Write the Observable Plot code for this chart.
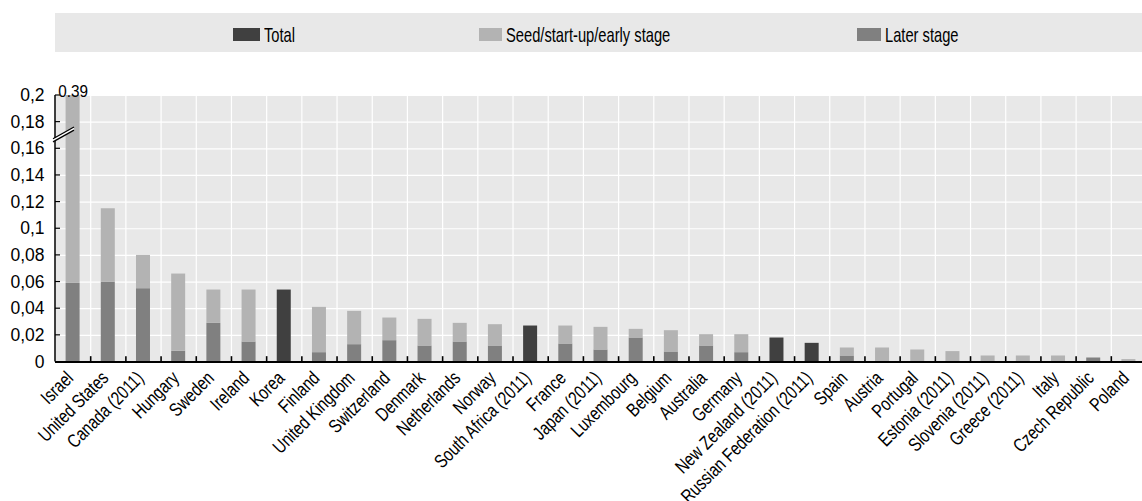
<!DOCTYPE html>
<html><head><meta charset="utf-8">
<script src="https://cdn.jsdelivr.net/npm/d3@7"></script>
<script src="https://cdn.jsdelivr.net/npm/@observablehq/plot@0.6"></script>
<style>
body{margin:0;background:#fff;font-family:"Liberation Sans",Arial,sans-serif;}
#wrap{position:relative;width:1142px;height:501px;overflow:hidden}
#chart{position:absolute;left:0;top:0}
#legend{position:absolute;left:55px;top:13px;width:1087px;height:39px;background:#e8e8e8;z-index:2}
.item{position:absolute;top:2px;height:39px;display:flex;align-items:center;font-size:21px;color:#000;white-space:nowrap}
.sw{display:inline-block;width:24px;height:13px;margin-right:4px}
.lt{display:inline-block;transform:scaleX(0.7);transform-origin:left center}
</style></head><body>
<div id="wrap"><div id="chart"></div><div id="legend"></div></div>
<script>
const countries = ["Israel","United States","Canada (2011)","Hungary","Sweden","Ireland","Korea","Finland","United Kingdom","Switzerland","Denmark","Netherlands","Norway","South Africa (2011)","France","Japan (2011)","Luxembourg","Belgium","Australia","Germany","New Zealand (2011)","Russian Federation (2011)","Spain","Austria","Portugal","Estonia (2011)","Slovenia (2011)","Greece (2011)","Italy","Czech Republic","Poland"];
const laterStage = [0.059,0.060,0.055,0.008,0.029,0.015,null,0.007,0.013,0.016,0.012,0.015,0.012,null,0.0135,0.009,0.018,0.0075,0.012,0.007,null,null,0.0045,0,0,0,0,0,0,0.003,0];
const seedStage  = [0.331,0.055,0.025,0.058,0.025,0.039,null,0.034,0.025,0.017,0.020,0.014,0.016,null,0.0135,0.017,0.0065,0.016,0.0085,0.0135,null,null,0.006,0.0105,0.009,0.0078,0.0045,0.0045,0.0045,0,0.0018];
const totalOnly  = [null,null,null,null,null,null,0.054,null,null,null,null,null,null,0.027,null,null,null,null,null,null,0.018,0.014,null,null,null,null,null,null,null,null,null];
const seriesNames = ["Total","Seed/start-up/early stage","Later stage"];
const seriesColors = ["#404040","#b3b3b3","#808080"];
const yTicks = [0,0.02,0.04,0.06,0.08,0.1,0.12,0.14,0.16,0.18,0.2];
const israelLabel = "0.39";
const breakLines = [[0.1648,0.1736],[0.1672,0.1760]];

const rows = [];
countries.forEach((c,i)=>{
  if (totalOnly[i] != null) rows.push({country:c, series:"Total", y1:0, y2:totalOnly[i]});
  else {
    if (laterStage[i] > 0) rows.push({country:c, series:"Later stage", y1:0, y2:laterStage[i]});
    if (seedStage[i] > 0) rows.push({country:c, series:"Seed/start-up/early stage", y1:laterStage[i], y2:laterStage[i]+seedStage[i]});
  }
});

const FONT = '"Liberation Sans",Arial,sans-serif';
const xRange = [55, 1146];
const bw = (xRange[1]-xRange[0])/countries.length;
const barW = 14;
const fmt = d => d === 0 ? "0" : String(+d.toFixed(2)).replace(".", ",");

function axisDeco(index, scales, values, dims) {
  const g = d3.create("svg:g");
  const x0 = dims.marginLeft;
  const y = scales.y;
  g.append("line").attr("x1",x0).attr("x2",x0).attr("y1",y(0.2)).attr("y2",y(0)).attr("stroke","#000").attr("stroke-width",1.5);
  for (const t of yTicks.slice(1)) {
    g.append("line").attr("x1",x0).attr("x2",x0+5).attr("y1",y(t)).attr("y2",y(t)).attr("stroke","#000").attr("stroke-width",1.2);
  }
  const xb = [x0-2, x0+19];
  const [a,b] = breakLines;
  g.append("polygon").attr("points",[[xb[0],y(a[0])],[xb[1],y(a[1])],[xb[1],y(b[1])],[xb[0],y(b[0])]].map(p=>p.join(",")).join(" ")).attr("fill","#fff");
  for (const l of breakLines) {
    g.append("line").attr("x1",xb[0]).attr("x2",xb[1]).attr("y1",y(l[0])).attr("y2",y(l[1])).attr("stroke","#000").attr("stroke-width",1.3);
  }
  return g.node();
}

const chart = Plot.plot({
  width:1142, height:501,
  marginLeft:55, marginTop:95, marginBottom:139.5, marginRight:0,
  style:{fontFamily:FONT, background:"transparent", overflow:"visible"},
  x:{type:"band", domain:countries, range:xRange, padding:0, round:false, axis:null},
  y:{domain:[0,0.2], clamp:true, axis:null},
  color:{domain:seriesNames, range:seriesColors},
  marks:[
    Plot.frame({fill:"#e8e8e8", stroke:null}),
    Plot.ruleY(yTicks.slice(1), {stroke:"#fff", strokeWidth:1.2}),
    Plot.ruleX(countries.slice(1), {x:d=>d, y1:0, y2:0.2, dx:-bw/2, stroke:"#fff", strokeWidth:1.2}),
    Plot.barY(rows, {x:"country", y1:"y1", y2:"y2", fill:"series", insetLeft:(bw-barW)/2, insetRight:(bw-barW)/2}),
    Plot.ruleX(countries.slice(1), {x:d=>d, y1:0, y2:0.004, dx:-bw/2, stroke:"#000", strokeWidth:1.6}),
    Plot.ruleY([0], {stroke:"#000", strokeWidth:2}),
    axisDeco,
    Plot.text(yTicks, {y:d=>d, frameAnchor:"left", dx:-11, textAnchor:"end", text:fmt, fontSize:17.5, fill:"#000"}),
    Plot.text(countries, {x:d=>d, y:()=>0, text:d=>d, rotate:-45, textAnchor:"end", lineAnchor:"middle", dx:-3, dy:13, fontSize:19, fill:"#000"}),
    Plot.text([israelLabel], {x:()=>countries[0], y:()=>0.2, text:d=>d, dy:-4, lineAnchor:"middle", fontSize:17, fill:"#000"})
  ]
});
// condense label glyphs horizontally (narrow typeface look)
const cset = new Set(countries);
chart.querySelectorAll("text").forEach(t => {
  const s = t.textContent;
  let k = null;
  if (cset.has(s)) k = 0.79; else if (s === israelLabel) k = 0.9;
  if (k == null) return;
  const tr = t.getAttribute("transform");
  if (tr) t.setAttribute("transform", tr + ` scale(${k},1)`);
  else {
    const x = +t.getAttribute("x") || 0, y = +t.getAttribute("y") || 0;
    t.removeAttribute("x"); t.removeAttribute("y");
    t.setAttribute("transform", `translate(${x},${y}) scale(${k},1)`);
  }
});
document.getElementById("chart").appendChild(chart);

const legendPos = [{sw:178, w:27}, {sw:424, w:23}, {sw:802, w:24}];
const legend = document.getElementById("legend");
seriesNames.forEach((n,i)=>{
  const it = document.createElement("div");
  it.className = "item";
  it.style.left = legendPos[i].sw + "px";
  const sw = document.createElement("span");
  sw.className = "sw";
  sw.style.background = seriesColors[i];
  sw.style.width = legendPos[i].w + "px";
  it.appendChild(sw);
  const tx = document.createElement("span");
  tx.className = "lt";
  tx.textContent = n;
  it.appendChild(tx);
  legend.appendChild(it);
});
</script>
</body></html>
